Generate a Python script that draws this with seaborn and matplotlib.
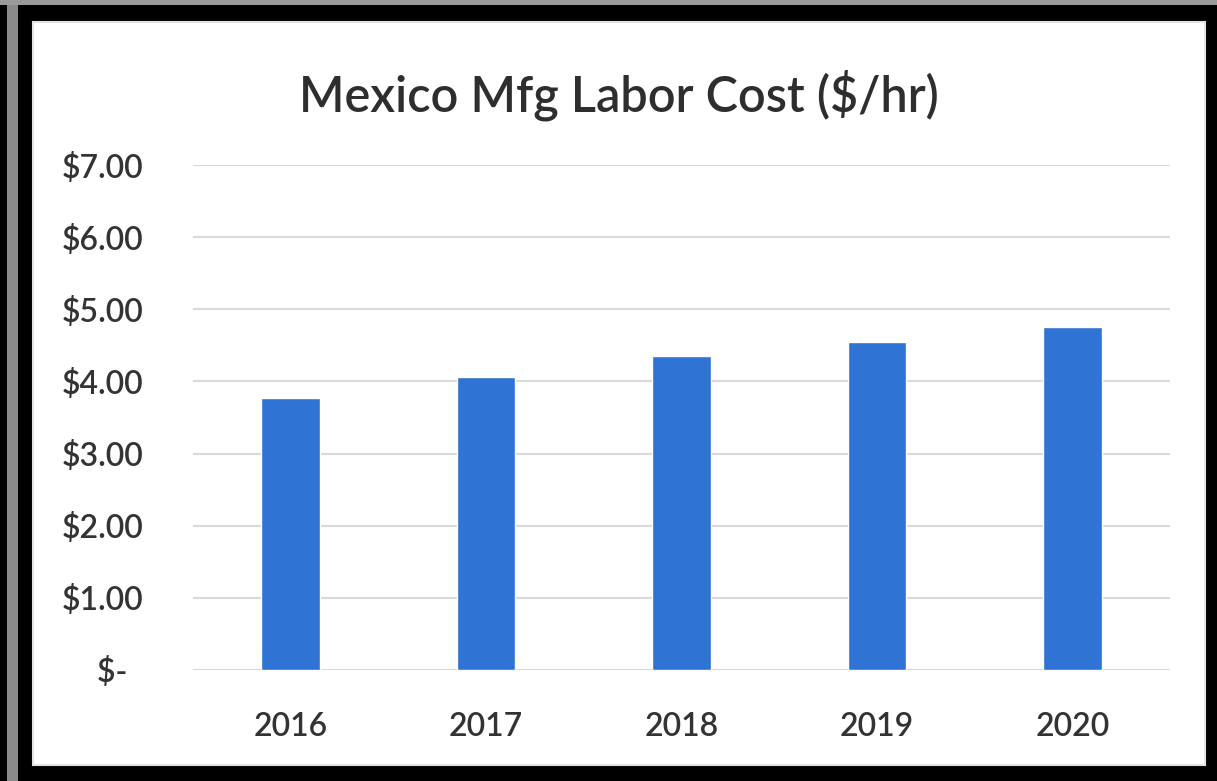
import matplotlib
matplotlib.use("Agg")
import matplotlib.pyplot as plt
from matplotlib.patches import Rectangle
import seaborn as sns
import pandas as pd

years = ["2016", "2017", "2018", "2019", "2020"]
labor_cost = [3.77, 4.06, 4.35, 4.55, 4.75]
tick_values = [0, 1, 2, 3, 4, 5, 6, 7]
tick_labels = ["$-  ", "$1.00", "$2.00", "$3.00", "$4.00", "$5.00", "$6.00", "$7.00"]
title_text = "Mexico Mfg Labor Cost ($/hr)"

sns.set_theme(style="white")
plt.rcParams["font.family"] = ["Lato", "DejaVu Sans"]

W, H = 1217, 781
fig = plt.figure(figsize=(W / 100, H / 100), dpi=100, facecolor="black")

# frame: outer grey strip, black border and the white chart panel
fig.patches.append(Rectangle((7 / W, 0), 11 / W, 1, transform=fig.transFigure,
                             facecolor="#8a8a8a", edgecolor="none", zorder=-2))
fig.patches.append(Rectangle((0, 1 - 5 / H), 1, 5 / H, transform=fig.transFigure,
                             facecolor="#9a9a9a", edgecolor="none", zorder=-2))
fig.patches.append(Rectangle((33 / W, (H - 765) / H), (1205 - 33) / W, (765 - 22) / H,
                             transform=fig.transFigure, facecolor="white",
                             edgecolor="#e4e4e4", linewidth=1.5, zorder=-1))

ax_left, ax_right, ax_top, ax_bottom = 193, 1170, 165, 670
ax = fig.add_axes([ax_left / W, (H - ax_bottom) / H, (ax_right - ax_left) / W,
                   (ax_bottom - ax_top) / H], zorder=2)
ax.set_facecolor("none")

df = pd.DataFrame({"year": years, "cost": labor_cost})
sns.barplot(data=df, x="year", y="cost", color="#2f73d4", saturation=1,
            width=0.3, ax=ax, zorder=3)

ax.set_ylim(0, 7)
ax.set_xlim(-0.5, len(years) - 0.5)
ax.set_yticks(tick_values)
ax.set_yticklabels(tick_labels)
for v in tick_values:
    ax.axhline(v, color="#d9d9d9", linewidth=1.5, zorder=1)

for s in ax.spines.values():
    s.set_visible(False)
ax.tick_params(axis="y", length=0, pad=36, labelsize=23, labelcolor="#333333")
ax.tick_params(axis="x", length=0, pad=30, labelsize=23, labelcolor="#333333")
for lbl in ax.get_xticklabels() + ax.get_yticklabels():
    lbl.set_fontweight("semibold")
ax.set_xlabel("")
ax.set_ylabel("")

fig.text(619 / W, 1 - 95 / H, title_text, ha="center", va="center",
         fontsize=35, color="#2e2e2e", fontweight="semibold", zorder=3)

fig.savefig("out.png", dpi=100, facecolor=fig.get_facecolor())
